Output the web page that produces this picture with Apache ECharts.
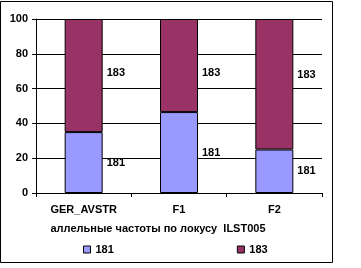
<!DOCTYPE html>
<html><head><meta charset="utf-8">
<script src="https://cdn.jsdelivr.net/npm/echarts@6/dist/echarts.min.js"></script>
<style>html,body{margin:0;padding:0;background:#fff}#c{width:361px;height:268px}</style>
</head><body><div id="c"></div>
<script>
var categories = ['GER_AVSTR', 'F1', 'F2'];
var s181 = [35, 46.5, 25];
var s183 = [65, 53.5, 75];
var yTicks = [0, 20, 40, 60, 80, 100];
var labelOffsets183 = [-3, 7, -9];

var font = 'Liberation Sans, Arial, sans-serif';
var chart = echarts.init(document.getElementById('c'));
function lbl(off){ return {show:true, position:'right', distance:4, formatter:'{a}', color:'#000', fontWeight:'bold', fontSize:11, fontFamily:font, offset:[0, off||0]}; }
chart.setOption({
  animation:false,
  backgroundColor:'#fff',
  graphic:[{type:'rect', shape:{x:0.5,y:1.5,width:332,height:261}, style:{fill:null, stroke:'#000', lineWidth:1}, silent:true}],
  grid:{left:36, right:39, top:19, bottom:75},
  legend:{left:83, top:244, padding:0, itemGap:123, itemWidth:7, itemHeight:7, icon:'rect',
    textStyle:{color:'#000', fontWeight:'bold', fontSize:11, fontFamily:font},
    data:[{name:'181', itemStyle:{borderColor:'#000', borderWidth:1}}, {name:'183', itemStyle:{borderColor:'#000', borderWidth:1}}]},
  xAxis:{type:'category', data:categories,
    axisLine:{lineStyle:{color:'#000', width:1}},
    axisTick:{show:true, length:4, lineStyle:{color:'#000'}},
    axisLabel:{color:'#000', fontWeight:'bold', fontSize:11, fontFamily:font, margin:11},
    name:'аллельные частоты по локусу  ILST005', nameLocation:'middle', nameGap:30,
    nameTextStyle:{color:'#000', fontWeight:'bold', fontSize:11, fontFamily:font, padding:[0,42,0,0]}},
  yAxis:{type:'value', min:0, max:100, interval:20,
    axisLine:{show:true, lineStyle:{color:'#000', width:1}},
    axisTick:{show:true, length:4, lineStyle:{color:'#000'}},
    axisLabel:{color:'#000', fontWeight:'bold', fontSize:11, fontFamily:font, margin:8,
      formatter:function(v){ return yTicks.indexOf(v) >= 0 ? String(v) : ''; }},
    splitLine:{show:true, lineStyle:{color:'#000', width:1}}},
  series:[
    {name:'181', type:'bar', stack:'a', barWidth:38, data:s181,
      itemStyle:{color:'#9999FF', borderColor:'#000', borderWidth:1}, label:lbl(0)},
    {name:'183', type:'bar', stack:'a', barWidth:38,
      data:s183.map(function(v,i){ return {value:v, label:{offset:[0, labelOffsets183[i]]}}; }),
      itemStyle:{color:'#993366', borderColor:'#000', borderWidth:1}, label:lbl(0)}
  ]
});
</script></body></html>
